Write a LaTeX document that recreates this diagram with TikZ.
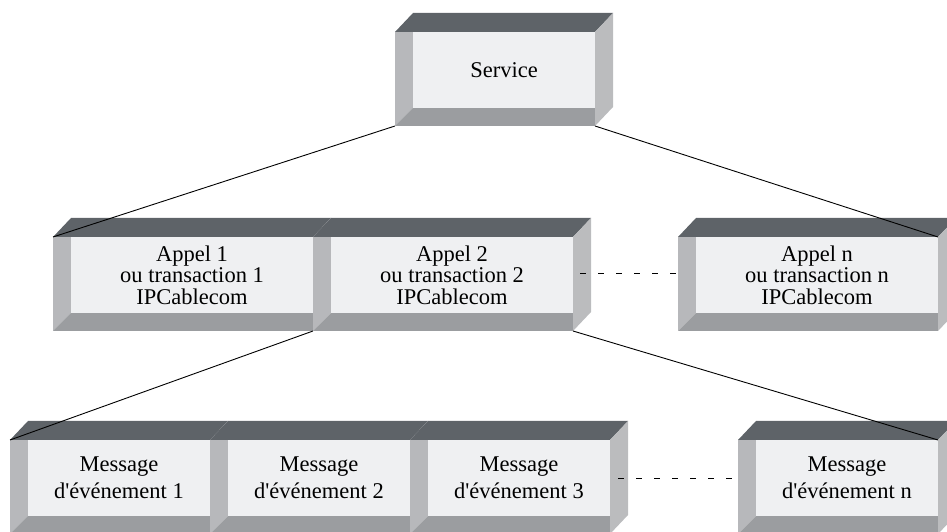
\documentclass[tikz,border=0pt]{standalone}
\usepackage{fontspec}
\setmainfont{Liberation Serif}
\usetikzlibrary{positioning,backgrounds}
\definecolor{boxtop}{RGB}{94,99,104}
\definecolor{boxside}{RGB}{187,188,190}
\definecolor{boxleft}{RGB}{183,184,187}
\definecolor{boxbottom}{RGB}{155,157,160}
\definecolor{boxface}{RGB}{239,240,242}

\begin{document}
\begin{tikzpicture}[x=1pt, y=1pt, every node/.style={font=\fontsize{22.5}{21.5}\selectfont}]
  \tikzset{
    block/.style={fill=boxface, minimum width=#1, minimum height=76pt, inner sep=0pt, outer sep=0pt, align=center},
    block/.default=182pt,
    msg/.style={block, font=\fontsize{22.5}{27}\selectfont},
    link/.style={line width=0.9pt},
    dots/.style={line width=0.9pt, dash pattern=on 6pt off 12pt}
  }
  \useasboundingbox (0,0) rectangle (947,532);

  \node[block]        (service) at (504,462) {Service};

  \node[block=242pt]  (a1) at (192,257) {Appel 1\\ou transaction 1\\IPCablecom};
  \node[block=242pt, right=18pt of a1] (a2) {Appel 2\\ou transaction 2\\IPCablecom};
  \node[block=242pt]  (an) at (817,257) {Appel n\\ou transaction n\\IPCablecom};

  \node[msg]                   (m1) at (119,54) {Message\\d\textquotesingle événement 1};
  \node[msg, right=18pt of m1] (m2) {Message\\d\textquotesingle événement 2};
  \node[msg, right=18pt of m2] (m3) {Message\\d\textquotesingle événement 3};
  \node[msg]                   (mn) at (847,54) {Message\\d\textquotesingle événement n};

  % bevelled fronts, top and side faces behind the text faces
  \begin{pgfonlayer}{background}
    \foreach \n in {service,a1,a2,an,m1,m2,m3,mn} {
      \fill[boxleft] ([xshift=-18pt]\n.north west) -- (\n.north west) -- (\n.south west) -- ([shift={(-18pt,-18pt)}]\n.south west) -- cycle;
      \fill[boxbottom] ([shift={(-18pt,-18pt)}]\n.south west) -- (\n.south west) -- (\n.south east) -- ([yshift=-18pt]\n.south east) -- cycle;
      \fill[boxtop] ([xshift=-18pt]\n.north west) -- ([yshift=19pt]\n.north west) -- ([shift={(18pt,19pt)}]\n.north east) -- (\n.north east) -- cycle;
      \fill[boxside] (\n.north east) -- ([shift={(18pt,19pt)}]\n.north east) -- ([shift={(18pt,1pt)}]\n.south east) -- ([yshift=-18pt]\n.south east) -- cycle;
    }
  \end{pgfonlayer}

  \draw[link] ([shift={(-18pt,-18pt)}]service.south west) -- ([xshift=-18pt]a1.north west);
  \draw[link] ([yshift=-18pt]service.south east) -- (an.north east);
  \draw[link] ([shift={(-18pt,-18pt)}]a2.south west) -- ([xshift=-18pt]m1.north west);
  \draw[link] ([yshift=-18pt]a2.south east) -- (mn.north east);

  \draw[dots, dash phase=11pt] ([yshift=2pt]a2.east) -- ([shift={(-18pt,2pt)}]an.west);
  \draw[dots, dash phase=10pt] (m3.east) -- ([xshift=-18pt]mn.west);
\end{tikzpicture}
\end{document}
